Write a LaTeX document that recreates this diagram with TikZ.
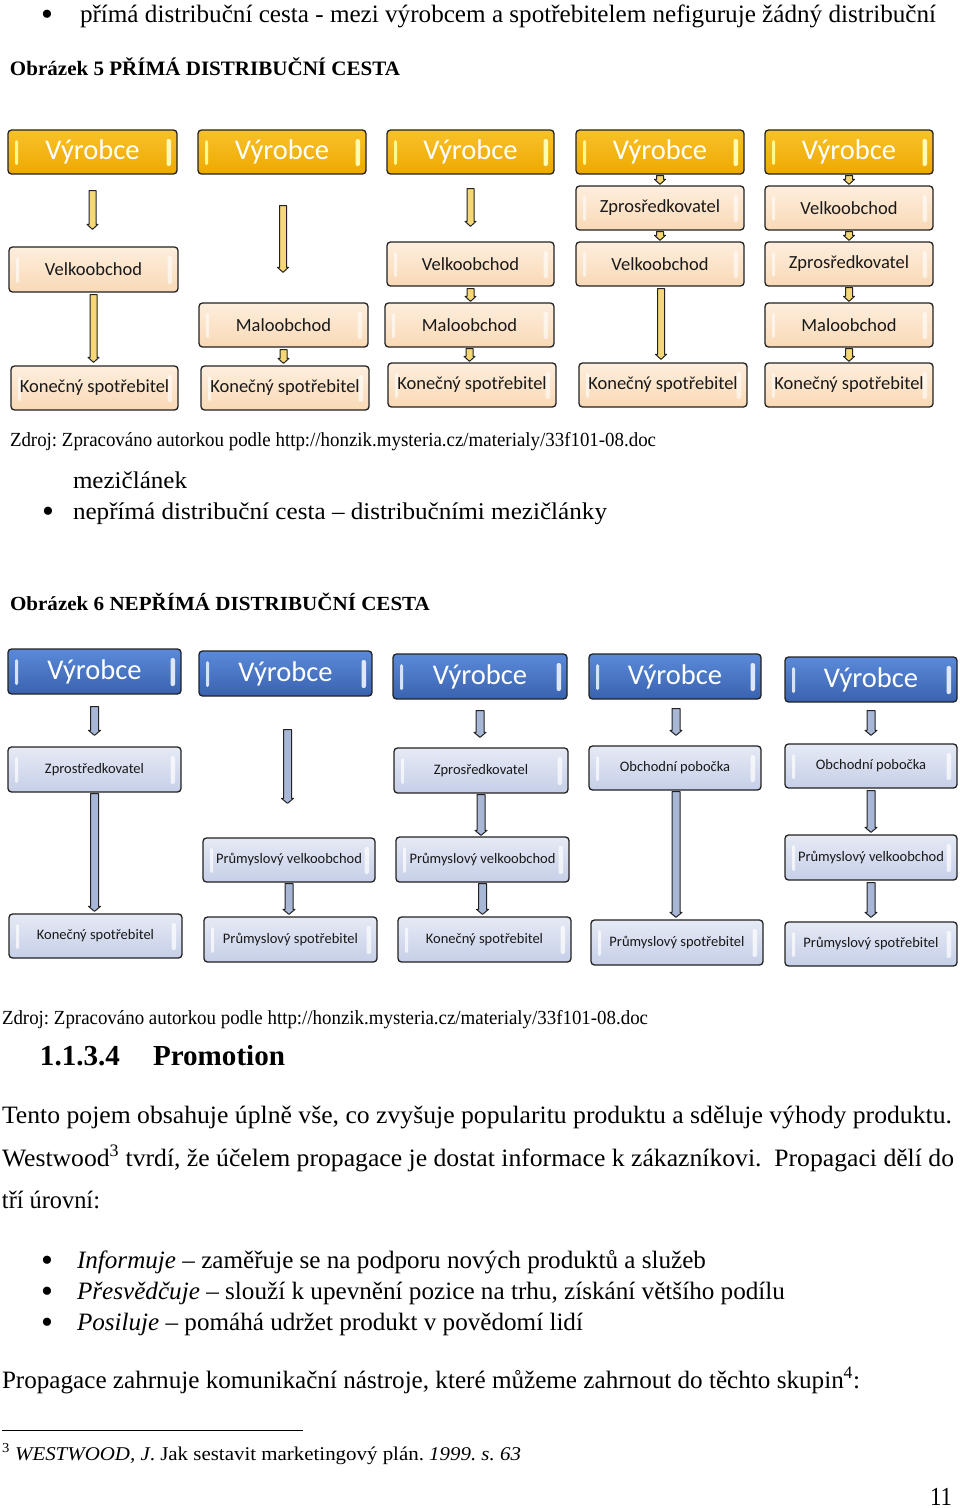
\documentclass[tikz,border=0pt]{standalone}
\usepackage{fontspec}
\setmainfont{Liberation Serif}
\newfontfamily\calib{Carlito}
\usepackage{graphicx}
\usetikzlibrary{calc}
\frenchspacing

\newsavebox\fitbx
\newlength\fitl
\newcommand\fitw[2]{\sbox\fitbx{#2}\setlength\fitl{\wd\fitbx}\pgfmathsetmacro\fitsc{#1/\fitl}\scalebox{\fitsc}[1]{\usebox\fitbx}}

\definecolor{yTop}{HTML}{F8C12A}
\definecolor{yBot}{HTML}{EEA900}
\definecolor{pTop}{HTML}{FEEEDD}
\definecolor{pBot}{HTML}{F9D9B6}
\definecolor{yArr}{HTML}{F6D776}
\definecolor{bTop}{HTML}{5A8ADA}
\definecolor{bBot}{HTML}{3A62AE}
\definecolor{lTop}{HTML}{E6EAF5}
\definecolor{lBot}{HTML}{C6CFE8}
\definecolor{bArr}{HTML}{A8B7D6}
\definecolor{edge}{HTML}{222222}

% block arrow: #1 style, #2 half shaft width, #3 start, #4 end
\newcommand\barr[4]{\draw[#1] let \p1=#3, \p2=#4 in
  (\x1-#2,\y1) -- (\x1+#2,\y1) -- (\x1+#2,\y2+5pt) -- (\x1+#2+2pt,\y2+5pt) -- (\x1,\y2)
  -- (\x1-#2-2pt,\y2+5pt) -- (\x1-#2,\y2+5pt) -- cycle;}

\tikzset{
  txt/.style={anchor=base west, inner sep=0pt, outer sep=0pt},
  bul/.style={anchor=base, inner sep=0pt, font=\fontsize{34}{36}\selectfont},
  bevel/.style n args={3}{path picture={
     \fill[#1, opacity=#3, rounded corners=1.5pt] ([xshift=7pt,yshift=-10pt]path picture bounding box.north west) rectangle ([xshift=10pt,yshift=9pt]path picture bounding box.south west);
     \fill[#2, opacity=#3, rounded corners=2pt] ([xshift=-6pt,yshift=-9pt]path picture bounding box.north east) rectangle ([xshift=-10.5pt,yshift=8pt]path picture bounding box.south east);}},
  box/.style={draw=edge, line width=1.3pt, rounded corners=3.5pt, inner sep=0pt},
  yv/.style={box, top color=yTop, bottom color=yBot, text=white, bevel={yellow!45!white}{yellow!30!white}{1},
     font=\calib\fontsize{28.5}{30}\selectfont},
  yl/.style={box, top color=pTop, bottom color=pBot, text=black!90, bevel={white}{white}{0.6},
     font=\calib\fontsize{18.5}{20}\selectfont},
  bv/.style={box, top color=bTop, bottom color=bBot, text=white, bevel={white!75!bTop}{white!80!bTop}{1},
     font=\calib\fontsize{28.5}{30}\selectfont},
  bl/.style={box, top color=lTop, bottom color=lBot, text=black!90, bevel={white}{white}{0.7},
     font=\calib\fontsize{14.5}{16}\selectfont},
  yarrow/.style={draw=edge, line width=1pt, fill=yArr, line join=round},
  barrow/.style={draw=edge, line width=1pt, fill=bArr, line join=round},
}

\begin{document}
\begin{tikzpicture}[x=1pt,y=-1pt]
\useasboundingbox[fill=white] (0,0) rectangle (960,1508);

% ---------- top text ----------
\node[bul] (b0) at (47,25) {•};
\node[txt] (t1) at (80,22) {\fontsize{25}{27}\selectfont\fitw{856}{přímá distribuční cesta - mezi výrobcem a spotřebitelem nefiguruje žádný distribuční}};
\node[txt] (h5) at (10,75) {\fontsize{20.5}{22}\selectfont\bfseries\fitw{390}{Obrázek 5 PŘÍMÁ DISTRIBUČNÍ CESTA}};

% ---------- diagram 1 (yellow) ----------
\node[yv, minimum width=169, minimum height=44] (yv1) at (92.5,152) {Výrobce};
\node[yv, minimum width=168, minimum height=44] (yv2) at (282,152) {Výrobce};
\node[yv, minimum width=167, minimum height=44] (yv3) at (470.5,152) {Výrobce};
\node[yv, minimum width=168, minimum height=44] (yv4) at (660,152) {Výrobce};
\node[yv, minimum width=168, minimum height=44] (yv5) at (849,152) {Výrobce};

\node[yl, minimum width=169, minimum height=45] (yvel1) at (93.5,269.5) {Velkoobchod};
\node[yl, minimum width=167, minimum height=44] (ykon1) at (94.5,388) {Konečný spotřebitel};

\node[yl, minimum width=169, minimum height=44] (ymal2) at (283.5,325) {Maloobchod};
\node[yl, minimum width=168, minimum height=44] (ykon2) at (285,388) {Konečný spotřebitel};

\node[yl, minimum width=167, minimum height=44] (yvel3) at (470.5,264) {Velkoobchod};
\node[yl, minimum width=169, minimum height=44] (ymal3) at (469.5,325) {Maloobchod};
\node[yl, minimum width=168, minimum height=44] (ykon3) at (472,385) {Konečný spotřebitel};

\node[yl, minimum width=168, minimum height=44] (yzpr4) at (660,208) {Zprosředkovatel};
\node[yl, minimum width=168, minimum height=44] (yvel4) at (660,264) {Velkoobchod};
\node[yl, minimum width=168, minimum height=44] (ykon4) at (663,385) {Konečný spotřebitel};

\node[yl, minimum width=168, minimum height=44] (yvel5) at (849,208) {Velkoobchod};
\node[yl, minimum width=168, minimum height=44] (yzpr5) at (849,264) {Zprosředkovatel};
\node[yl, minimum width=168, minimum height=44] (ymal5) at (849,325) {Maloobchod};
\node[yl, minimum width=168, minimum height=44] (ykon5) at (849,385) {Konečný spotřebitel};

\barr{yarrow}{3.5pt}{([yshift=-16pt]yv1.south)}{([yshift=17pt]yvel1.north)}
\barr{yarrow}{3.5pt}{([yshift=-2pt]yvel1.south)}{([yshift=3pt]ykon1.north)}
\barr{yarrow}{3.5pt}{([yshift=-31pt,xshift=1pt]yv2.south)}{([yshift=30pt]ymal2.north)}
\barr{yarrow}{3.5pt}{([yshift=-2pt]ymal2.south)}{([yshift=2pt]ykon2.north)}
\barr{yarrow}{3.5pt}{([yshift=-14pt]yv3.south)}{([yshift=15pt]yvel3.north)}
\barr{yarrow}{3.5pt}{([yshift=-2pt]yvel3.south)}{([yshift=1pt]ymal3.north)}
\barr{yarrow}{3.5pt}{([yshift=-1pt]ymal3.south)}{([yshift=1pt]ykon3.north)}
\barr{yarrow}{3.5pt}{([yshift=-1pt]yv4.south)}{([yshift=1pt]yzpr4.north)}
\barr{yarrow}{3.5pt}{([yshift=-1pt]yzpr4.south)}{([yshift=1pt]yvel4.north)}
\barr{yarrow}{3.5pt}{([yshift=-2pt,xshift=1pt]yvel4.south)}{([yshift=3pt]ykon4.north)}
\barr{yarrow}{3.5pt}{([yshift=-1pt]yv5.south)}{([yshift=1pt]yvel5.north)}
\barr{yarrow}{3.5pt}{([yshift=-1pt]yvel5.south)}{([yshift=1pt]yzpr5.north)}
\barr{yarrow}{3.5pt}{([yshift=-1pt]yzpr5.south)}{([yshift=1pt]ymal5.north)}
\barr{yarrow}{3.5pt}{([yshift=-1pt]ymal5.south)}{([yshift=1pt]ykon5.north)}

% ---------- middle text ----------
\node[txt] (z1) at (10,446) {\fontsize{20}{22}\selectfont\fitw{646}{Zdroj: Zpracováno autorkou podle http://honzik.mysteria.cz/materialy/33f101-08.doc}};
\node[txt] (mz) at (73,488) {\fontsize{24}{26}\selectfont\fitw{114}{mezičlánek}};
\node[bul] (b1) at (48,522) {•};
\node[txt] (np) at (73,519) {\fontsize{24}{26}\selectfont\fitw{534}{nepřímá distribuční cesta – distribučními mezičlánky}};
\node[txt] (h6) at (10,610) {\fontsize{20}{22}\selectfont\bfseries\fitw{420}{Obrázek 6 NEPŘÍMÁ DISTRIBUČNÍ CESTA}};

% ---------- diagram 2 (blue) ----------
\node[bv, minimum width=173, minimum height=45] (bv1) at (94.5,671.5) {Výrobce};
\node[bv, minimum width=173, minimum height=45] (bv2) at (285.5,673.5) {Výrobce};
\node[bv, minimum width=174, minimum height=45] (bv3) at (480,676.5) {Výrobce};
\node[bv, minimum width=172, minimum height=45] (bv4) at (675,676.5) {Výrobce};
\node[bv, minimum width=172, minimum height=45] (bv5) at (871,679.5) {Výrobce};

\node[bl, minimum width=173, minimum height=45] (bz1) at (94.5,769.5) {Zprostředkovatel};
\node[bl, minimum width=173, minimum height=44] (bk1) at (95.5,936) {Konečný spotřebitel};

\node[bl, minimum width=172, minimum height=44] (bpv2) at (289,860) {Průmyslový velkoobchod};
\node[bl, minimum width=173, minimum height=45] (bps2) at (290.5,939.5) {Průmyslový spotřebitel};

\node[bl, minimum width=174, minimum height=45] (bz3) at (481,770.5) {Zprosředkovatel};
\node[bl, minimum width=173, minimum height=45] (bpv3) at (482.5,859.5) {Průmyslový velkoobchod};
\node[bl, minimum width=173, minimum height=45] (bk3) at (484.5,939.5) {Konečný spotřebitel};

\node[bl, minimum width=172, minimum height=44] (bo4) at (675,768) {Obchodní pobočka};
\node[bl, minimum width=172, minimum height=45] (bps4) at (677,942.5) {Průmyslový spotřebitel};

\node[bl, minimum width=172, minimum height=44] (bo5) at (871,766) {Obchodní pobočka};
\node[bl, minimum width=172, minimum height=45] (bpv5) at (871,857.5) {Průmyslový velkoobchod};
\node[bl, minimum width=172, minimum height=44] (bps5) at (871,944) {Průmyslový spotřebitel};

\barr{barrow}{4pt}{([yshift=-12pt]bv1.south)}{([yshift=11pt]bz1.north)}
\barr{barrow}{4pt}{([yshift=-1pt]bz1.south)}{([yshift=2pt]bk1.north)}
\barr{barrow}{4pt}{([yshift=-33pt,xshift=2pt]bv2.south)}{([yshift=34pt]bpv2.north)}
\barr{barrow}{4pt}{([yshift=-1pt]bpv2.south)}{([yshift=2pt]bps2.north)}
\barr{barrow}{4pt}{([yshift=-11pt]bv3.south)}{([yshift=10pt]bz3.north)}
\barr{barrow}{4pt}{([yshift=-1pt]bz3.south)}{([yshift=1pt]bpv3.north)}
\barr{barrow}{4pt}{([yshift=-1pt]bpv3.south)}{([yshift=2pt]bk3.north)}
\barr{barrow}{4pt}{([yshift=-9pt,xshift=1pt]bv4.south)}{([yshift=10pt]bo4.north)}
\barr{barrow}{4pt}{([yshift=-1pt,xshift=1pt]bo4.south)}{([yshift=2pt]bps4.north)}
\barr{barrow}{4pt}{([yshift=-8pt]bv5.south)}{([yshift=8pt]bo5.north)}
\barr{barrow}{4pt}{([yshift=-2pt]bo5.south)}{([yshift=2pt]bpv5.north)}
\barr{barrow}{4pt}{([yshift=-2pt]bpv5.south)}{([yshift=4pt]bps5.north)}

% ---------- lower text ----------
\node[txt] (z2) at (2,1024) {\fontsize{20}{22}\selectfont\fitw{646}{Zdroj: Zpracováno autorkou podle http://honzik.mysteria.cz/materialy/33f101-08.doc}};
\node[txt] (sn) at (40,1065) {\fontsize{29}{30}\selectfont\bfseries\fitw{80}{1.1.3.4}};
\node[txt] (st) at (153,1065) {\fontsize{29}{30}\selectfont\bfseries\fitw{132}{Promotion}};
\node[txt] (p1) at (2,1123) {\fontsize{25}{27}\selectfont\fitw{950}{Tento pojem obsahuje úplně vše, co zvyšuje popularitu produktu a sděluje výhody produktu.}};
\node[txt] (p2) at (2,1166) {\fontsize{25}{27}\selectfont\fitw{952}{Westwood\textsuperscript{3} tvrdí, že účelem propagace je dostat informace k zákazníkovi.\ \ Propagaci dělí do}};
\node[txt] (p3) at (2,1208) {\fontsize{25}{27}\selectfont\fitw{98}{tří úrovní:}};

\node[bul] (b2) at (47,1271) {•};
\node[txt] (l1) at (77,1268) {\fontsize{25}{27}\selectfont\fitw{629}{\textit{Informuje} – zaměřuje se na podporu nových produktů a služeb}};
\node[bul] (b3) at (47,1302) {•};
\node[txt] (l2) at (77,1299) {\fontsize{25}{27}\selectfont\fitw{708}{\textit{Přesvědčuje} – slouží k upevnění pozice na trhu, získání většího podílu}};
\node[bul] (b4) at (47,1333) {•};
\node[txt] (l3) at (77,1330) {\fontsize{25}{27}\selectfont\fitw{506}{\textit{Posiluje} – pomáhá udržet produkt v povědomí lidí}};

\node[txt] (p4) at (2,1388) {\fontsize{25}{27}\selectfont\fitw{858}{Propagace zahrnuje komunikační nástroje, které můžeme zahrnout do těchto skupin\textsuperscript{4}:}};

\draw[line width=1pt] (2,1430) -- (303,1430);
\node[txt] (fn) at (2,1460) {\fontsize{19.5}{21}\selectfont\fitw{519}{\textsuperscript{3} \textit{WESTWOOD, J}. Jak sestavit marketingový plán. \textit{1999. s. 63}}};
\node[txt] (pg) at (930,1505) {\fontsize{26}{28}\selectfont\fitw{22}{11}};
\end{tikzpicture}
\end{document}
